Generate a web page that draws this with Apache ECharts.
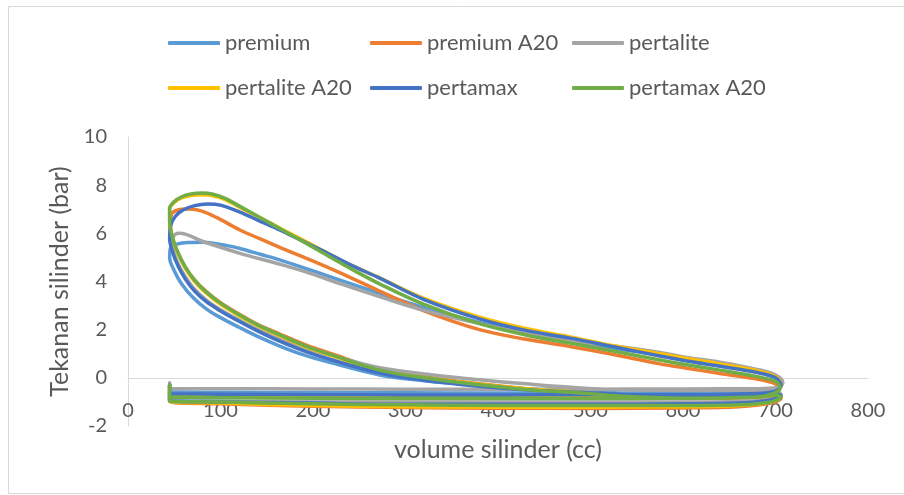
<!DOCTYPE html>
<html>
<head>
<meta charset="utf-8">
<script src="https://cdn.jsdelivr.net/npm/echarts@6/dist/echarts.min.js"></script>
<style>
  html, body { margin: 0; padding: 0; background: #ffffff; }
  #chart { width: 904px; height: 495px; }
</style>
</head>
<body>
<div id="chart"></div>
<script>
// ---- data (volume cc, pressure bar), in loop order ----
const seriesNames = ['premium', 'premium A20', 'pertalite', 'pertalite A20', 'pertamax', 'pertamax A20'];
const seriesColors = ['#5B9BD5', '#ED7D31', '#A5A5A5', '#FFC000', '#4472C4', '#70AD47'];
const xTicks = [0, 800, 100];
const yTicks = [-2, 10, 2];

const premium = [
  [45,-0.3],[45,-0.9],[100,-0.97],[200,-1.02],[300,-1.05],[400,-1.06],[500,-1.06],[600,-1.05],[660,-1.02],[695,-0.9],[706,-0.72],
  [700,-0.6],[680,-0.65],[600,-0.7],[540,-0.65],[489,-0.55],[430,-0.45],[380,-0.3],[320,-0.12],[272,0.12],[220,0.62],[190,0.95],[164,1.32],[140,1.72],[120,2.1],[100,2.5],[85,2.85],[70,3.35],[58,3.9],[50,4.45],[45,5.0],
  [46,5.4],[53,5.55],[65,5.62],[80,5.63],[95,5.57],[110,5.47],[121,5.37],[143,5.13],[164,4.9],[197,4.48],[230,4.05],[272,3.51],[320,2.92],[380,2.3],[430,1.87],[478,1.52],[530,1.2],[575,0.95],[604,0.76],[640,0.55],[680,0.25],[700,0.02],[706,-0.3],[700,-0.5],[680,-0.58],
  [600,-0.62],[500,-0.63],[400,-0.63],[300,-0.62],[200,-0.61],[100,-0.6],[45,-0.58]
];
const premiumA20 = [
  [45,-0.3],[45,-0.98],[100,-1.08],[200,-1.18],[300,-1.23],[400,-1.26],[500,-1.27],[600,-1.25],[660,-1.2],[695,-1.05],[706,-0.85],
  [700,-0.75],[680,-0.82],[600,-0.86],[540,-0.8],[489,-0.65],[430,-0.45],[380,-0.25],[320,0.05],[272,0.36],[220,1.0],[190,1.4],[164,1.82],[140,2.22],[120,2.65],[100,3.12],[85,3.57],[72,4.07],[62,4.6],[54,5.2],[48,5.8],[46,6.3],
  [47,6.78],[54,6.97],[66,7.01],[80,6.92],[96,6.65],[121,6.14],[143,5.77],[164,5.42],[197,4.9],[230,4.35],[272,3.6],[320,2.78],[380,2.0],[430,1.6],[478,1.3],[530,0.93],[575,0.58],[604,0.4],[640,0.18],[680,-0.05],[700,-0.25],[704,-0.45],[698,-0.65],[680,-0.78],
  [600,-0.82],[500,-0.82],[400,-0.82],[300,-0.82],[200,-0.82],[100,-0.8],[45,-0.78]
];
const pertalite = [
  [45,-0.2],[45,-0.95],[100,-0.98],[200,-1.0],[300,-1.0],[400,-1.0],[500,-1.0],[600,-1.0],[660,-0.98],[695,-0.9],[706,-0.7],
  [702,-0.55],[680,-0.52],[600,-0.52],[540,-0.5],[489,-0.42],[430,-0.25],[380,-0.08],[330,0.12],[272,0.42],[220,0.92],[190,1.25],[164,1.6],[140,2.0],[120,2.4],[100,2.83],[85,3.22],[72,3.68],[62,4.2],[54,4.75],[49,5.3],[48,5.75],
  [51,5.96],[56,6.0],[81,5.66],[121,5.17],[164,4.72],[197,4.34],[230,3.9],[272,3.37],[320,2.8],[380,2.25],[430,1.85],[478,1.55],[530,1.3],[575,1.05],[604,0.85],[640,0.65],[680,0.35],[700,0.12],[708,-0.2],[702,-0.4],[680,-0.45],
  [600,-0.46],[500,-0.47],[400,-0.47],[300,-0.47],[200,-0.46],[100,-0.45],[45,-0.45]
];
const pertaliteA20 = [
  [45,-0.3],[45,-0.98],[100,-1.05],[200,-1.15],[300,-1.2],[400,-1.22],[500,-1.22],[600,-1.2],[660,-1.15],[695,-1.0],[706,-0.8],
  [700,-0.7],[680,-0.78],[600,-0.82],[540,-0.75],[489,-0.6],[430,-0.45],[380,-0.27],[320,0.0],[272,0.3],[220,0.92],[190,1.32],[164,1.75],[140,2.17],[120,2.58],[100,3.05],[85,3.5],[72,4.0],[62,4.55],[54,5.15],[48,5.8],[45,6.45],
  [45,7.0],[50,7.28],[58,7.47],[68,7.57],[80,7.6],[92,7.56],[105,7.4],[121,7.08],[143,6.65],[164,6.22],[186,5.78],[210,5.3],[240,4.7],[272,4.15],[320,3.3],[380,2.52],[430,2.05],[478,1.7],[530,1.3],[575,1.0],[604,0.8],[640,0.58],[680,0.3],[700,0.05],[706,-0.3],[700,-0.6],[680,-0.75],
  [600,-0.8],[500,-0.8],[400,-0.8],[300,-0.8],[200,-0.8],[100,-0.78],[45,-0.75]
];
const pertamax = [
  [45,-0.3],[45,-0.95],[100,-1.0],[200,-1.05],[300,-1.1],[400,-1.1],[500,-1.1],[600,-1.08],[660,-1.05],[695,-0.92],[706,-0.75],
  [700,-0.65],[680,-0.7],[600,-0.75],[540,-0.7],[489,-0.6],[430,-0.5],[380,-0.35],[320,-0.1],[272,0.2],[220,0.75],[190,1.12],[164,1.52],[140,1.95],[120,2.35],[100,2.78],[85,3.15],[72,3.6],[62,4.1],[54,4.65],[48,5.25],[45,5.8],
  [46,6.3],[51,6.7],[60,6.98],[72,7.15],[86,7.22],[100,7.17],[121,6.88],[143,6.5],[164,6.14],[186,5.73],[210,5.28],[240,4.7],[272,4.14],[320,3.25],[380,2.45],[430,1.97],[478,1.65],[530,1.25],[575,0.91],[604,0.7],[640,0.48],[680,0.22],[700,0.0],[706,-0.32],[700,-0.55],[680,-0.65],
  [600,-0.7],[500,-0.7],[400,-0.71],[300,-0.71],[200,-0.7],[100,-0.68],[45,-0.66]
];
const pertamaxA20 = [
  [45,-0.3],[45,-0.95],[100,-1.0],[200,-1.08],[300,-1.12],[400,-1.15],[500,-1.15],[600,-1.15],[660,-1.12],[695,-1.0],[706,-0.8],
  [700,-0.72],[680,-0.8],[600,-0.85],[540,-0.78],[489,-0.63],[430,-0.48],[380,-0.29],[320,0.0],[272,0.32],[220,0.95],[190,1.35],[164,1.78],[140,2.2],[120,2.62],[100,3.1],[85,3.55],[72,4.05],[62,4.6],[54,5.2],[48,5.85],[45,6.5],
  [45,7.04],[50,7.32],[58,7.52],[68,7.63],[80,7.67],[92,7.62],[105,7.45],[121,7.12],[143,6.65],[164,6.2],[186,5.73],[210,5.2],[240,4.55],[272,3.9],[320,3.05],[380,2.25],[430,1.78],[478,1.44],[530,1.07],[575,0.74],[604,0.54],[640,0.32],[680,0.05],[700,-0.15],[705,-0.4],[698,-0.65],[680,-0.8],
  [600,-0.85],[500,-0.86],[400,-0.86],[300,-0.86],[200,-0.85],[100,-0.83],[45,-0.8]
];
const seriesData = [premium, premiumA20, pertalite, pertaliteA20, pertamax, pertamaxA20];

const xTitle = 'volume silinder (cc)';
const yTitle = 'Tekanan silinder (bar)';

// ---- chart ----
const FONT = 'Lato';
const TEXT = '#595959';
const AXIS = '#D9D9D9';

const chart = echarts.init(document.getElementById('chart'), null, { renderer: 'canvas' });

const legendPos = [[168, 32], [370, 32], [572, 32], [168, 77], [370, 77], [572, 77]];

const option = {
  animation: false,
  backgroundColor: '#ffffff',
  textStyle: { fontFamily: FONT },
  graphic: [{
    type: 'rect',
    shape: { x: 8.5, y: 6.5, width: 900, height: 487 },
    style: { fill: 'none', stroke: AXIS, lineWidth: 1 },
    silent: true
  }],
  legend: seriesNames.map((n, i) => ({
    data: [n],
    left: legendPos[i][0],
    top: legendPos[i][1],
    padding: 0,
    icon: 'roundRect',
    itemWidth: 52,
    itemHeight: 4,
    textStyle: { fontFamily: FONT, fontSize: 22, color: TEXT }
  })),
  grid: { left: 128, top: 137, width: 740, height: 289, containLabel: false, outerBoundsMode: 'none' },
  xAxis: {
    type: 'value',
    min: xTicks[0], max: xTicks[1], interval: xTicks[2],
    axisLine: { show: true, onZero: true, lineStyle: { color: AXIS, width: 1 } },
    axisTick: { show: false },
    splitLine: { show: false },
    axisLabel: { fontFamily: FONT, fontSize: 20, color: TEXT, margin: -25 },
    name: xTitle,
    nameLocation: 'middle',
    nameGap: 11,
    nameTextStyle: { fontFamily: FONT, fontSize: 25, color: TEXT, verticalAlign: 'top' }
  },
  yAxis: {
    type: 'value',
    min: yTicks[0], max: yTicks[1], interval: yTicks[2],
    axisLine: { show: true, onZero: false, lineStyle: { color: AXIS, width: 1 } },
    axisTick: { show: false },
    splitLine: { show: false },
    axisLabel: { fontFamily: FONT, fontSize: 20, color: TEXT, margin: 21 },
    name: yTitle,
    nameLocation: 'middle',
    nameGap: 56,
    nameTextStyle: { fontFamily: FONT, fontSize: 25, color: TEXT }
  },
  series: seriesNames.map((n, i) => ({
    name: n,
    type: 'line',
    data: seriesData[i],
    showSymbol: false,
    symbol: 'none',
    smooth: 0.35,
    color: seriesColors[i],
    lineStyle: { color: seriesColors[i], width: 3.5, cap: 'round', join: 'round' },
    emphasis: { disabled: true }
  }))
};

chart.setOption(option);
</script>
</body>
</html>
